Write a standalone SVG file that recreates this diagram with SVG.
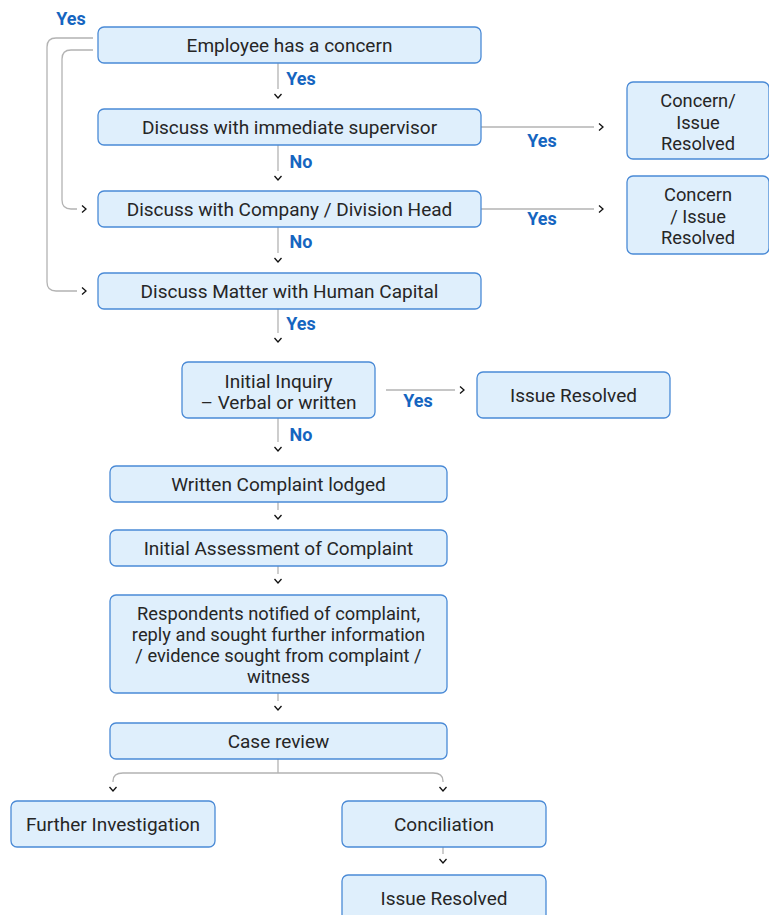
<svg xmlns="http://www.w3.org/2000/svg" width="769" height="915" viewBox="0 0 769 915">
  <style>
    .box { fill: #dfeffc; stroke: #4a8ad6; stroke-width: 1.3; }
    .txt { font-family: Roboto, "Liberation Sans", sans-serif; font-size: 19px; fill: #262626; text-anchor: middle; }
    .sm { font-size: 18.3px; }
    .lbl { font-family: Roboto, "Liberation Sans", sans-serif; font-size: 18px; font-weight: bold; fill: #1565c0; text-anchor: middle; }
    .line { fill: none; stroke: #b3b3b3; stroke-width: 1.3; }
    .edge { fill: none; stroke: #b3b3b3; stroke-width: 1.3; marker-end: url(#chev); }
  </style>
  <defs>
    <marker id="chev" viewBox="0 -5 12 10" refX="0" refY="0" markerWidth="12" markerHeight="10" markerUnits="userSpaceOnUse" orient="auto" overflow="visible">
      <path d="M5,-3.5 L9,0 L5,3.5" fill="none" stroke="#111" stroke-width="1.3"/>
    </marker>
  </defs>

  <rect width="769" height="915" fill="#ffffff"/>

  <!-- connectors -->
  <g id="connectors">
    <path class="edge" d="M93,38 H56 Q47,38 47,47 V282 Q47,291 56,291 H77"/>
    <path class="edge" d="M93,50 H71 Q62,50 62,59 V200 Q62,209 71,209 H77"/>
    <path class="edge" d="M278,63 V89"/>
    <path class="edge" d="M278,145 V171"/>
    <path class="edge" d="M278,227 V253"/>
    <path class="edge" d="M278,309 V333"/>
    <path class="edge" d="M481,127 H594"/>
    <path class="edge" d="M481,209 H594"/>
    <path class="edge" d="M386,390 H455"/>
    <path class="edge" d="M278,418 V442"/>
    <path class="edge" d="M278,502 V510"/>
    <path class="edge" d="M278,566 V574"/>
    <path class="edge" d="M278,693 V701"/>
    <path class="line" d="M278,759 V773"/>
    <path class="edge" d="M278,773 H123 Q113,773 113,781 V782"/>
    <path class="edge" d="M278,773 H433 Q443,773 443,781 V782"/>
    <path class="edge" d="M443,847 V854"/>

    <text class="lbl" x="71" y="25">Yes</text>
    <text class="lbl" x="301" y="85">Yes</text>
    <text class="lbl" x="301" y="168">No</text>
    <text class="lbl" x="301" y="248">No</text>
    <text class="lbl" x="301" y="330">Yes</text>
    <text class="lbl" x="542" y="147">Yes</text>
    <text class="lbl" x="542" y="225">Yes</text>
    <text class="lbl" x="418" y="407">Yes</text>
    <text class="lbl" x="301" y="441">No</text>
  </g>

  <g id="employee-concern">
    <rect class="box" x="98" y="27" width="383" height="36" rx="6"/>
    <text class="txt" x="289.5" y="52">Employee has a concern</text>
  </g>
  <g id="immediate-supervisor">
    <rect class="box" x="98" y="109" width="383" height="36" rx="6"/>
    <text class="txt" x="289.5" y="134">Discuss with immediate supervisor</text>
  </g>
  <g id="division-head">
    <rect class="box" x="98" y="191" width="383" height="36" rx="6"/>
    <text class="txt" x="289.5" y="216">Discuss with Company / Division Head</text>
  </g>
  <g id="human-capital">
    <rect class="box" x="98" y="273" width="383" height="36" rx="6"/>
    <text class="txt" x="289.5" y="298">Discuss Matter with Human Capital</text>
  </g>
  <g id="resolved-1">
    <rect class="box" x="627" y="82" width="142" height="77" rx="6"/>
    <text class="txt sm" x="698" y="107">Concern/</text>
    <text class="txt sm" x="698" y="128.5">Issue</text>
    <text class="txt sm" x="698" y="150">Resolved</text>
  </g>
  <g id="resolved-2">
    <rect class="box" x="627" y="176" width="142" height="78" rx="6"/>
    <text class="txt sm" x="698" y="200.5">Concern</text>
    <text class="txt sm" x="698" y="222.5">/ Issue</text>
    <text class="txt sm" x="698" y="244">Resolved</text>
  </g>
  <g id="initial-inquiry">
    <rect class="box" x="182" y="362" width="193" height="56" rx="6"/>
    <text class="txt" x="278.5" y="388">Initial Inquiry</text>
    <text class="txt" x="278.5" y="409">– Verbal or written</text>
  </g>
  <g id="issue-resolved-1">
    <rect class="box" x="477" y="372" width="193" height="46" rx="6"/>
    <text class="txt" x="573.5" y="402">Issue Resolved</text>
  </g>
  <g id="written-complaint">
    <rect class="box" x="110" y="466" width="337" height="36" rx="6"/>
    <text class="txt" x="278.5" y="491">Written Complaint lodged</text>
  </g>
  <g id="initial-assessment">
    <rect class="box" x="110" y="530" width="337" height="36" rx="6"/>
    <text class="txt" x="278.5" y="555">Initial Assessment of Complaint</text>
  </g>
  <g id="respondents-notified">
    <rect class="box" x="110" y="595" width="337" height="98" rx="6"/>
    <text class="txt sm" x="278.5" y="619.5">Respondents notified of complaint,</text>
    <text class="txt sm" x="278.5" y="641">reply and sought further information</text>
    <text class="txt sm" x="278.5" y="662">/ evidence sought from complaint /</text>
    <text class="txt sm" x="278.5" y="683">witness</text>
  </g>
  <g id="case-review">
    <rect class="box" x="110" y="723" width="337" height="36" rx="6"/>
    <text class="txt" x="278.5" y="748">Case review</text>
  </g>
  <g id="further-investigation">
    <rect class="box" x="11" y="801" width="204" height="46" rx="6"/>
    <text class="txt" x="113" y="831">Further Investigation</text>
  </g>
  <g id="conciliation">
    <rect class="box" x="342" y="801" width="204" height="46" rx="6"/>
    <text class="txt" x="444" y="831">Conciliation</text>
  </g>
  <g id="issue-resolved-2">
    <rect class="box" x="342" y="875" width="204" height="46" rx="6"/>
    <text class="txt" x="444" y="905">Issue Resolved</text>
  </g>
</svg>
